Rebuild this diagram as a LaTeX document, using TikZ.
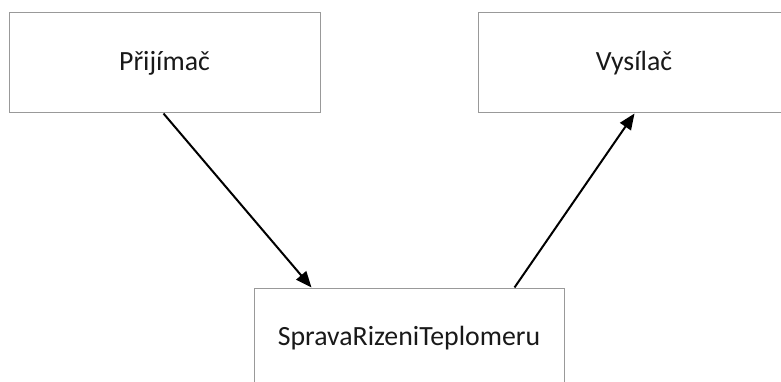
\documentclass[tikz,border=0pt]{standalone}
\usepackage{fontspec}
\setmainfont{Carlito}
\usetikzlibrary{arrows.meta,calc}
\begin{document}
\begin{tikzpicture}[x=1pt,y=-1pt,
  blockbox/.style={draw=black!40,line width=1pt,fill=white,inner sep=0pt,
    font=\fontsize{27.8}{32}\selectfont,text=black!90},
  flow/.style={line width=2pt,-{Triangle[length=16pt,width=13pt]}}]
\useasboundingbox (0,0) rectangle (781,382);
\clip (0,0) rectangle (781,382);
\fill[white] (0,0) rectangle (781,382);
\node[blockbox,minimum width=311pt,minimum height=100pt] (prij) at (164.5,63) {Přijímač};
\node[blockbox,minimum width=312pt,minimum height=100pt] (vys) at (634,63) {Vysílač};
\node[blockbox,minimum width=310pt,minimum height=100pt] (sprava) at (409,338) {SpravaRizeniTeplomeru};
\coordinate (a1s) at ([xshift=155pt]prij.south west);
\coordinate (a1e) at ([xshift=58pt]sprava.north west);
\coordinate (a2s) at ([xshift=261pt]sprava.north west);
\coordinate (a2e) at ([xshift=157pt]vys.south west);
\draw[flow] (a1s) -- (a1e);
\draw[flow] (a2s) -- (a2e);
\end{tikzpicture}
\end{document}
